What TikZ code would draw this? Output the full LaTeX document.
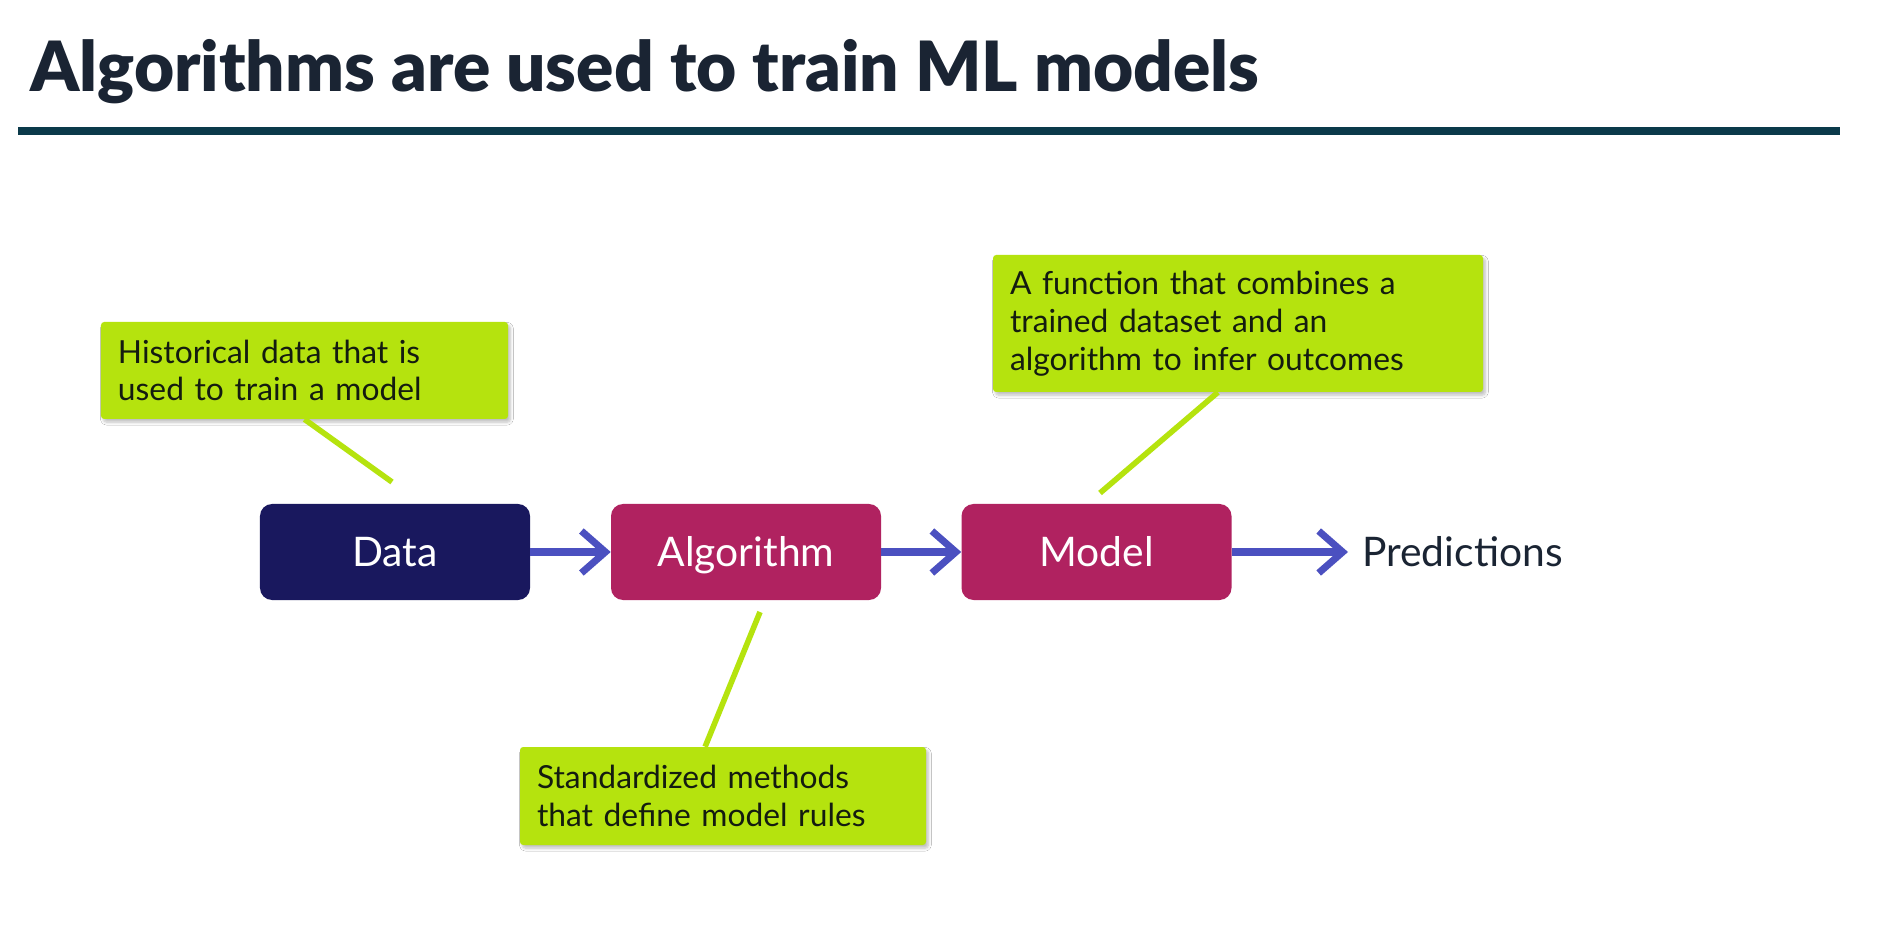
\documentclass[tikz,border=0pt]{standalone}
\usepackage{fontspec}
\setmainfont{Lato}
\newfontfamily\headfont{Lato Black}
\usetikzlibrary{arrows.meta,shadows.blur,calc}

\definecolor{inkNavy}{HTML}{1A2433}
\definecolor{ruleTeal}{HTML}{0B3A4A}
\definecolor{dataNavy}{HTML}{19185E}
\definecolor{berry}{HTML}{B02260}
\definecolor{lime}{HTML}{B5E30E}
\definecolor{flowBlue}{HTML}{4B50C0}
\definecolor{noteText}{HTML}{141C10}

\begin{document}
\begin{tikzpicture}[x=0.25mm,y=-0.25mm,
  stage/.style={rounded corners=3mm, minimum width=67.5mm, minimum height=24mm,
    inner sep=0pt, text=white, font=\fontsize{29}{32}\selectfont,
    text height=20.8pt, text depth=0pt},
  note/.style={fill=lime, rounded corners=0.8mm, align=left, inner xsep=4.25mm,
    inner ysep=0pt, text=noteText, font=\fontsize{22.6}{26.9}\selectfont,
    blur shadow={shadow xshift=0.6mm, shadow yshift=-0.8mm,
      shadow blur steps=6, shadow opacity=25}},
  pointer/.style={draw=lime, line width=1.4mm},
  flow/.style={draw=flowBlue, line width=1.75mm,
    -{Straight Barb[length=6mm,width=10.5mm]}}
]
\useasboundingbox (0,0) rectangle (1879,935);
\fill[white] (0,0) rectangle (1879,935);

% heading and rule
\node[anchor=base west, inner sep=0pt, text=inkNavy,
  font=\headfont\fontsize{49.3}{52}\selectfont] (title) at (30,92)
  {Algorithms are used to train ML models};
\draw[ruleTeal, line width=2mm] (18,131) -- (1840,131);

% pipeline stages
\node[stage, fill=dataNavy] (data) at (395,552) {Data};
\node[stage, fill=berry] (algo) at (746,552) {Algorithm};
\node[stage, fill=berry] (model) at (1096.5,552) {Model};
\node[anchor=west, inner sep=0pt, text=inkNavy, font=\fontsize{29}{32}\selectfont,
  text height=20.8pt, text depth=0pt] (pred) at (1362,552) {Predictions};

\draw[flow] (data.east) -- (algo.west);
\draw[flow] (algo.east) -- (model.west);
\draw[flow] (model.east) -- ([xshift=-3.5mm]pred.west);

% explanatory notes
\node[note, text width=93.25mm, minimum height=24.25mm] (n1) at (304.5,370.5)
  {Historical data that is\\used to train a model};
\node[note, text width=93mm, minimum height=24.5mm] (n2) at (723,796)
  {Standardized methods\\that define model rules};
\node[note, text width=114mm, minimum height=34.25mm] (n3) at (1238,323.5)
  {A function that combines a\\trained dataset and an\\algorithm to infer outcomes};

\coordinate (p1) at (392,482);
\coordinate (p2) at (760,612);
\coordinate (p3) at (1100,493);
\draw[pointer] (n1.south) -- (p1);
\draw[pointer] ($(n2.north west)!0.456!(n2.north east)$) -- (p2);
\draw[pointer] ($(n3.south west)!0.459!(n3.south east)$) -- (p3);
\end{tikzpicture}
\end{document}
